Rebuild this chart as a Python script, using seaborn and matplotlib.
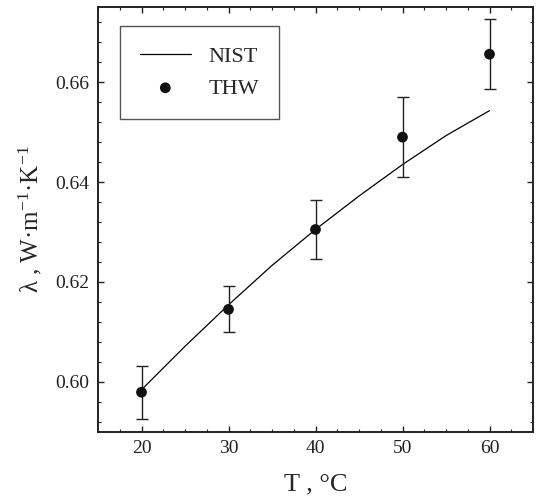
import numpy as np
import pandas as pd
import matplotlib
matplotlib.use("Agg")
import matplotlib.pyplot as plt
import seaborn as sns
from matplotlib.ticker import MultipleLocator

## datos
temp_nist = [20, 25, 30, 35, 40, 45, 50, 55, 60]
lambda_nist = [0.5984, 0.6071, 0.6154, 0.6233, 0.6305, 0.6372, 0.6435, 0.6493, 0.6543]

temp_thw = [20, 30, 40, 50, 60]
lambda_thw = [0.5979, 0.6145, 0.6305, 0.6490, 0.6656]
err_thw = [0.0053, 0.0046, 0.0060, 0.0080, 0.0070]

df_nist = pd.DataFrame({"T": temp_nist, "lam": lambda_nist})
df_thw = pd.DataFrame({"T": temp_thw, "lam": lambda_thw, "err": err_thw})

## estilo
sns.set_style("ticks")
plt.rcParams["font.family"] = ["Liberation Serif", "DejaVu Serif"]
plt.rcParams["mathtext.fontset"] = "custom"
plt.rcParams["mathtext.rm"] = "Liberation Serif"
plt.rcParams["mathtext.it"] = "Liberation Serif:italic"

fig = plt.figure(figsize=(5.36, 4.99), dpi=100)
ax = fig.add_axes([98 / 536, 1 - 431.7 / 499, (533 - 98) / 536, (431.7 - 7.3) / 499])

sns.lineplot(data=df_nist, x="T", y="lam", ax=ax, color="black", linewidth=0.9, label="NIST")
ax.errorbar(df_thw["T"], df_thw["lam"], yerr=df_thw["err"], fmt="none",
            ecolor="#222222", elinewidth=1.0, capsize=4, capthick=1.0)
sns.scatterplot(data=df_thw, x="T", y="lam", ax=ax, color="#111111", s=60,
                edgecolor="none", label="THW", zorder=5)

ax.set_xlim(15, 65)
ax.set_ylim(0.59, 0.675)
ax.xaxis.set_major_locator(MultipleLocator(10))
ax.xaxis.set_minor_locator(MultipleLocator(2.5))
ax.yaxis.set_major_locator(MultipleLocator(0.02))
ax.yaxis.set_minor_locator(MultipleLocator(0.004))
ax.yaxis.set_major_formatter(matplotlib.ticker.FormatStrFormatter("%.2f"))

ax.tick_params(which="both", direction="in", top=True, right=True, labelsize=14, colors="#222222")
ax.tick_params(which="major", length=4, width=1.0, pad=6)
ax.tick_params(which="minor", length=2.5, width=0.8)
for s in ax.spines.values():
    s.set_linewidth(1.4)
    s.set_color("#222222")

ax.set_xlabel("T , °C", fontsize=19, labelpad=12)
ax.set_ylabel(r"λ , W·m$^{-1}$·K$^{-1}$", fontsize=18, labelpad=8)

leg = ax.legend(loc="upper left", bbox_to_anchor=(0.05, 0.955), fontsize=16, frameon=True,
                fancybox=False, edgecolor="#555555", framealpha=1, handlelength=2.3,
                borderpad=0.9, labelspacing=0.5, handletextpad=0.8, borderaxespad=0)
leg.get_frame().set_linewidth(1.0)

fig.savefig("out.png", dpi=100)
